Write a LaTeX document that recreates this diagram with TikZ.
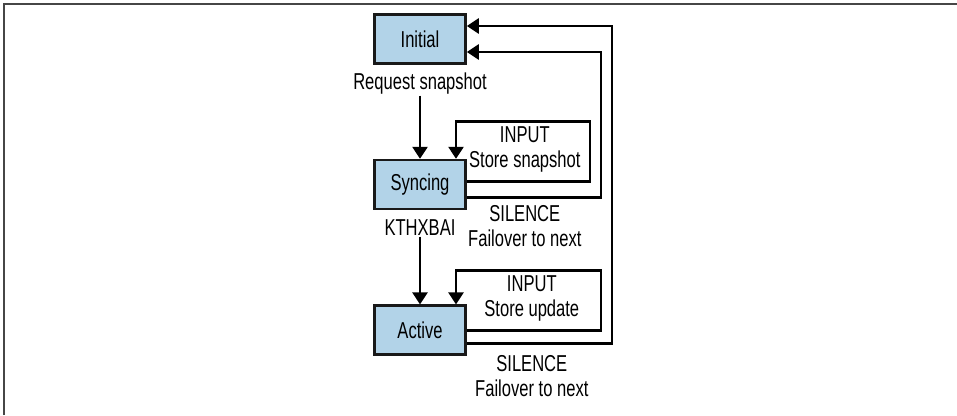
\documentclass[tikz,border=0pt]{standalone}
\usepackage{fontspec}
\setmainfont{Liberation Sans}[FakeStretch=0.72]
\usetikzlibrary{arrows.meta, positioning, calc}
\definecolor{statefill}{RGB}{178,211,232}
\definecolor{framegray}{RGB}{70,70,70}

\begin{document}
\begin{tikzpicture}[
    x=1pt, y=1pt,
    >=Latex,
    node distance=94pt,
    every node/.style={font=\fontsize{23}{25}\selectfont},
    state/.style={
        rectangle,
        draw=black!90,
        fill=statefill,
        line width=2.6pt,
        minimum width=91pt,
        minimum height=49pt,
        align=center
    },
    arrow/.style={
        -{Triangle[length=12pt,width=15pt]},
        line width=2.6pt,
        draw=black
    },
    lab/.style={
        align=center,
        inner sep=1pt
    }
]
\useasboundingbox (0,0) rectangle (957,-415);
\draw[framegray, line width=2pt] (3.5,-415) -- (3.5,-3.5) -- (957,-3.5);
\node[state] (initial) at (420,-39) {Initial};
\node[state, below=of initial] (syncing) {Syncing};
\node[state, below=of syncing] (active) {Active};
\node[lab] (reqlab) at ([yshift=-19pt]initial.south) {Request snapshot};
\node[lab] (kthlab) at ([yshift=-17pt]syncing.south) {KTHXBAI};
\node[lab] (sinput) at ([xshift=58pt,yshift=9pt]syncing.north east) {INPUT\\Store snapshot};
\node[lab] (ssilence) at ([xshift=58pt,yshift=-16pt]syncing.south east) {SILENCE\\Failover to next};
\node[lab] (ainput) at ([xshift=65pt,yshift=6pt]active.north east) {INPUT\\Store update};
\node[lab] (asilence) at ([xshift=65pt,yshift=-20pt]active.south east) {SILENCE\\Failover to next};
\draw[arrow] (reqlab) -- (syncing);
\draw[arrow] (kthlab) -- (active);
\draw[arrow] ([yshift=3pt]syncing.east) -- ++(123,0) -- ++(0,60) -| ([xshift=36pt]syncing.north);
\draw[arrow] (active.east) -- ++(134,0) -- ++(0,60) -| ([xshift=36pt]active.north);
\draw[arrow] ([yshift=-13pt]syncing.east) -- ++(134,0) |- ([yshift=-13pt]initial.east);
\draw[arrow] ([yshift=-13pt]active.east) -- ++(145,0) |- ([yshift=13pt]initial.east);
\end{tikzpicture}
\end{document}
